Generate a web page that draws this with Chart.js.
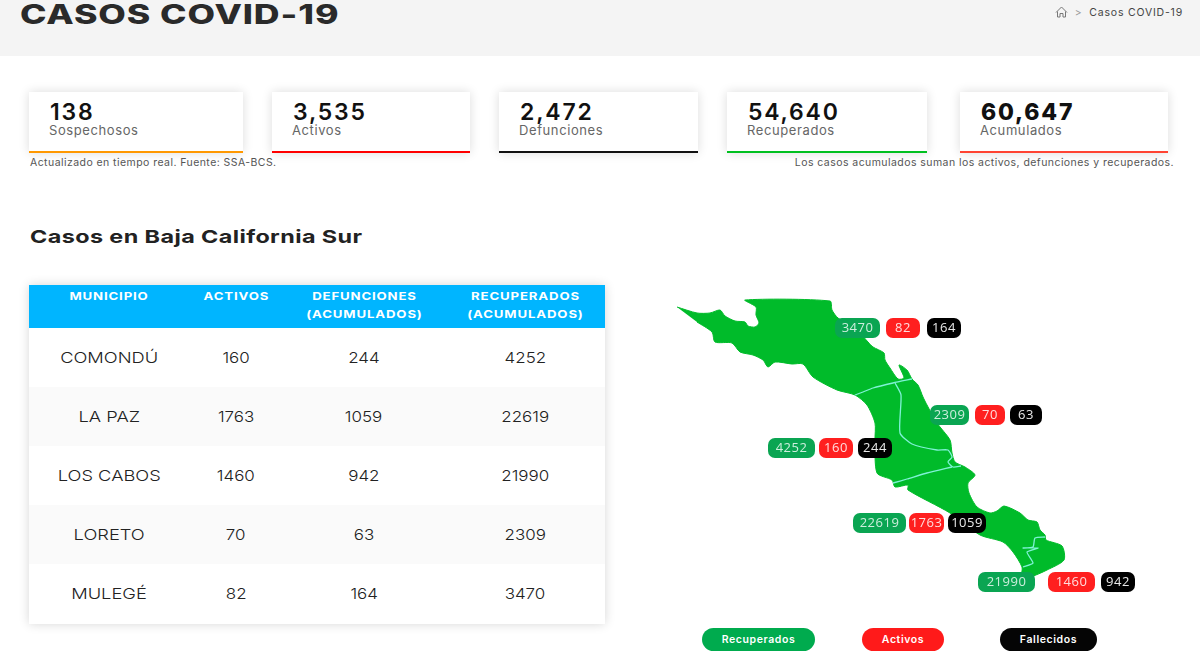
<!DOCTYPE html>
<html lang="es">
<head>
<meta charset="utf-8">
<title>Casos COVID-19</title>
<script src="https://cdn.jsdelivr.net/npm/chart.js@4"></script>
<style>
  html, body { margin: 0; padding: 0; background: #fff; overflow: hidden; }
  body { width: 1200px; height: 666px; position: relative; font-family: Inter, "Open Sans", sans-serif; color: #222; }
  .abs { position: absolute; white-space: nowrap; }
  #header { left: 0; top: 0; width: 1200px; height: 56px; background: #f4f4f4; }
  #title { left: 20px; top: -3px; font-size: 27px; line-height: 36px; font-weight: 800; letter-spacing: 0.7px; color: #2a2a2a; transform: scaleX(1.32); transform-origin: left center; }
  #crumb { right: 17px; top: 6px; font-size: 10.5px; line-height: 14px; color: #444; letter-spacing: 0.8px; }
  #crumb svg { vertical-align: -2px; }
  #crumb span { color: #999; margin: 0 3px; }
  .card { position: absolute; top: 92px; height: 59px; background: #fff; box-shadow: 0 0 10px rgba(0,0,0,0.14); border-bottom: 2px solid #000; }
  .card b { position: absolute; left: 21px; top: 8px; font-size: 23px; line-height: 24px; font-weight: 600; color: #111; letter-spacing: 1.8px; }
  .card i { position: absolute; left: 20px; top: 30px; font-style: normal; font-size: 13px; line-height: 16px; color: #666; letter-spacing: 0.6px; }
  .note { top: 156px; font-size: 10.5px; line-height: 14px; color: #555; letter-spacing: 0.44px; }
  #sub { left: 30px; top: 226px; font-size: 18px; line-height: 22px; font-weight: 700; letter-spacing: 0.3px; color: #222; transform: scaleX(1.3); transform-origin: left center; }
  #tabla { position: absolute; left: 29px; top: 285px; width: 576px; border-collapse: collapse; table-layout: fixed; box-shadow: 0 0 10px rgba(0,0,0,0.16); background: #fff; }
  #tabla th { background: #00b5ff; color: #fff; height: 41px; padding: 2px 0 0; font-size: 11px; line-height: 18px; font-weight: 700; vertical-align: top; letter-spacing: 0.7px; }
  #tabla th span, #tabla td span { display: inline-block; transform-origin: center; }
  #tabla th span { transform: scaleX(1.2); }
  #tabla td { height: 58px; padding: 0 0 1px; text-align: center; font-size: 15px; font-weight: 300; color: #222; }
  #tabla td span { transform: scaleX(1.13); }
  #tabla td:first-child span { transform: scaleX(1.22); }
  #tabla tr:nth-child(even) td { background: #fafafa; }
  #tabla tr:last-child td { height: 59px; }
  #mapa-wrap { position: absolute; left: 640px; top: 280px; width: 560px; height: 386px; }
  .ley { top: 628px; height: 23px; line-height: 23px; border-radius: 12px; color: #fff; font-size: 10.5px; font-weight: 600; text-align: center; letter-spacing: 0.6px; }
</style>
</head>
<body>
<div class="abs" id="header"></div>
<div class="abs" id="title">CASOS COVID-19</div>
<div class="abs" id="crumb"><svg width="13" height="12" viewBox="0 0 13 12" fill="none" stroke="#777" stroke-width="1"><path d="M1 6.5 6.5 1 12 6.5M2.5 5.5V11H5V7.5H8V11H10.5V5.5"/></svg><span> &gt; </span>Casos COVID-19</div>
<div id="cards"></div>
<div class="abs note" style="left:30px">Actualizado en tiempo real. Fuente: SSA-BCS.</div>
<div class="abs note" style="right:26px">Los casos acumulados suman los activos, defunciones y recuperados.</div>
<div class="abs" id="sub">Casos en Baja California Sur</div>
<table id="tabla"><thead><tr id="cabecera"></tr></thead><tbody id="filas"></tbody></table>
<div id="mapa-wrap"><canvas id="mapa" width="560" height="386"></canvas></div>
<div class="abs ley" style="left:702px;width:113px;background:#00ab4e">Recuperados</div>
<div class="abs ley" style="left:862px;width:82px;background:#ff1a1a">Activos</div>
<div class="abs ley" style="left:1000px;width:97px;background:#050505">Fallecidos</div>

<script>
// resumen
const resumenEtiquetas = ["Sospechosos", "Activos", "Defunciones", "Recuperados", "Acumulados"];
const resumenValores = ["138", "3,535", "2,472", "54,640", "60,647"];

// tabla por municipio
const municipios = ["COMONDÚ", "LA PAZ", "LOS CABOS", "LORETO", "MULEGÉ"];
const activos = [160, 1763, 1460, 70, 82];
const defunciones = [244, 1059, 942, 63, 164];
const recuperados = [4252, 22619, 21990, 2309, 3470];
const encabezados = ["MUNICIPIO", "ACTIVOS", "DEFUNCIONES<br>(ACUMULADOS)", "RECUPERADOS<br>(ACUMULADOS)"];

// contorno del estado
const contorno = [
  [677,307],[697,313],[710,313],[720,310],[725,316],[735,321],[745,322],[748,326],[755,327],[759,323],
  [756,315],[756,307],[745,300],[830,301],[832,310],[838,318],[857,330],[868,342],[873,347],[884,353],
  [885,360],[890,368],[898,379],[904,378],[899,365],[907,370],[912,379],[918,385],[923,397],[927,405],
  [937,423],[950,440],[952,453],[955,462],[965,467],[975,475],[968,483],[969,493],[977,507],[990,513],
  [997,511],[1004,506],[1020,513],[1028,520],[1037,522],[1040,530],[1045,535],[1046,540],[1062,546],[1064,560],
  [1047,570],[1033,576],[1022,577],[1022,567],[1013,552],[1003,542],[980,535],[950,513],[908,490],[908,485],
  [895,487],[892,480],[877,473],[875,440],[875,423],[867,405],[855,395],[837,390],[813,377],[803,364],
  [792,364],[775,362],[768,367],[763,360],[753,355],[740,352],[732,343],[715,342],[712,332],[697,322]
];
const limites = [
  [[855,395],[863,392],[873,388],[893,383],[912,379]],
  [[895,383],[901,395],[900,433],[912,444],[937,450],[948,450],[952,457],[948,462],[953,467],[961,466]],
  [[893,483],[907,479],[927,473],[952,467]],
  [[1045,537],[1035,538],[1033,547],[1023,548],[1038,548],[1027,552],[1033,563],[1023,567]]
];

// donde cae cada grupo de etiquetas sobre el mapa: [x0, x1] de cada pastilla y centro vertical
const pastillas = {
  "MULEGÉ": { y: 328, cajas: [[835,880],[886,920],[927,961]] },
  "LORETO": { y: 415, cajas: [[930,969],[975,1005],[1010,1042]] },
  "COMONDÚ": { y: 448, cajas: [[768,815],[819,853],[858,892]] },
  "LA PAZ": { y: 523, cajas: [[853,906],[909,944],[948,986]] },
  "LOS CABOS": { y: 582, cajas: [[978,1035],[1048,1095],[1101,1135]] }
};
const coloresPastilla = ["#0aa552", "#ff1f1f", "#000000"];
const coloresResumen = ["#ff9800", "#ff0000", "#111111", "#00c020", "#ff4433"];
const cajasResumen = [[29,243],[272,470],[499,698],[727,927],[960,1168]];

function toPoints(list) {
  return list.map(([x, y]) => ({ x, y }));
}

// tarjetas de arriba
const cards = document.getElementById("cards");
resumenEtiquetas.forEach((nombre, i) => {
  const div = document.createElement("div");
  div.className = "card";
  div.style.left = cajasResumen[i][0] + "px";
  div.style.width = cajasResumen[i][1] - cajasResumen[i][0] + "px";
  div.style.borderBottomColor = coloresResumen[i];
  div.innerHTML = `<b${i === 4 ? ' style="font-weight:800"' : ""}>${resumenValores[i]}</b><i>${nombre}</i>`;
  cards.appendChild(div);
});

// tabla
const anchos = [160, 94, 162, 160];
encabezados.forEach((txt, i) => {
  const th = document.createElement("th");
  th.style.width = anchos[i] + "px";
  th.innerHTML = `<span>${txt}</span>`;
  document.getElementById("cabecera").appendChild(th);
});
municipios.forEach((m, i) => {
  const tr = document.createElement("tr");
  [m, activos[i], defunciones[i], recuperados[i]].forEach((v) => {
    const td = document.createElement("td");
    const span = document.createElement("span");
    span.textContent = v;
    td.appendChild(span);
    tr.appendChild(td);
  });
  document.getElementById("filas").appendChild(tr);
});

// pastillas de valores, ubicadas con las escalas del chart
const pastillasPlugin = {
  id: "pastillas",
  afterDatasetsDraw(chart) {
    const { ctx, scales } = chart;
    ctx.save();
    ctx.textAlign = "center";
    ctx.textBaseline = "middle";
    ctx.font = '13px "Open Sans", sans-serif';
    ctx.letterSpacing = "0.5px";
    municipios.forEach((m, i) => {
      const valores = [recuperados[i], activos[i], defunciones[i]];
      const { y, cajas } = pastillas[m];
      const cy = scales.y.getPixelForValue(y);
      cajas.forEach(([x0, x1], j) => {
        const a = scales.x.getPixelForValue(x0);
        const b = scales.x.getPixelForValue(x1);
        ctx.fillStyle = coloresPastilla[j];
        ctx.beginPath();
        ctx.roundRect(a, cy - 10, b - a, 20, 7);
        ctx.fill();
        ctx.fillStyle = j === 0 ? "#cdeedd" : j === 1 ? "#ffdcdc" : "#e8e8e8";
        ctx.fillText(String(valores[j]), (a + b) / 2, cy + 0.5);
      });
    });
    ctx.restore();
  },
};

// order: el numero mas bajo queda encima
const datasets = [
  {
    label: "Baja California Sur",
    data: toPoints(contorno),
    order: 2,
    showLine: true,
    fill: "shape",
    tension: 0.25,
    backgroundColor: "#00bb2a",
    borderColor: "#00bb2a",
    borderWidth: 1,
    pointRadius: 0,
  },
  ...limites.map((l, i) => ({
    label: "Limite " + (i + 1),
    data: toPoints(l),
    order: 1,
    showLine: true,
    fill: false,
    tension: 0.2,
    borderColor: "#7ff2d6",
    borderWidth: 1.3,
    pointRadius: 0,
  })),
];

new Chart(document.getElementById("mapa"), {
  type: "scatter",
  data: { datasets },
  plugins: [pastillasPlugin],
  options: {
    responsive: false,
    animation: false,
    layout: { padding: 0 },
    plugins: { legend: { display: false }, tooltip: { enabled: false }, title: { display: false } },
    scales: {
      x: { type: "linear", display: false, min: 640, max: 1200 },
      y: { type: "linear", display: false, min: 280, max: 666, reverse: true },
    },
  },
});
</script>
</body>
</html>
